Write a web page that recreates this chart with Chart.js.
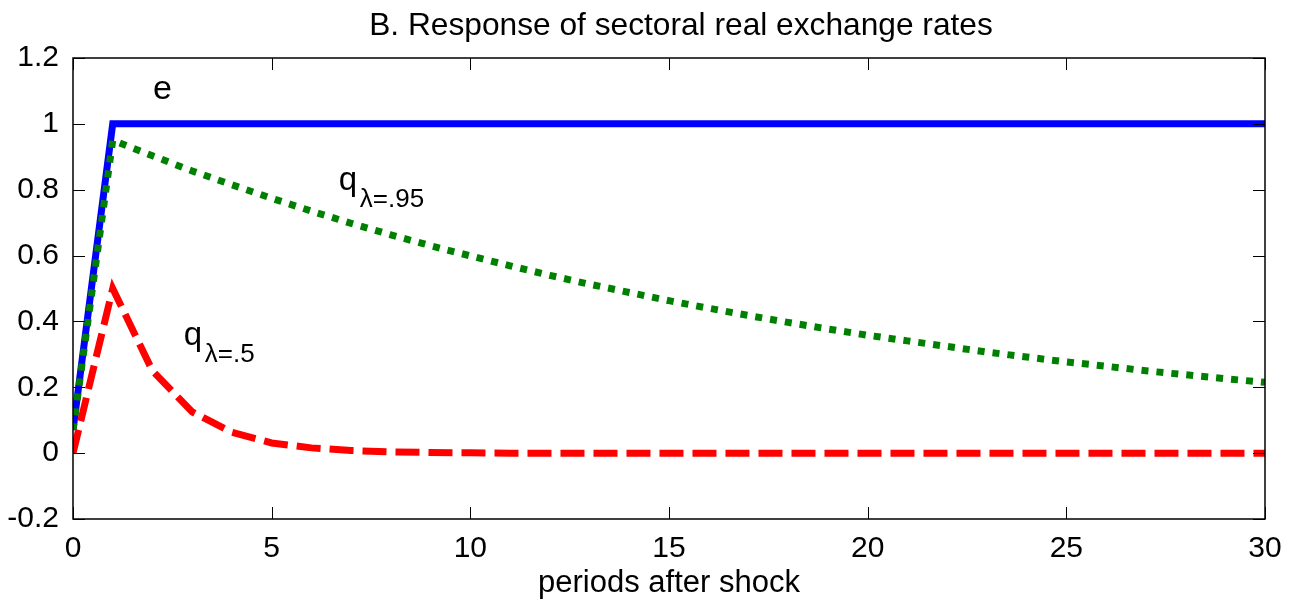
<!DOCTYPE html>
<html>
<head>
<meta charset="utf-8">
<title>Response of sectoral real exchange rates</title>
<script src="https://cdn.jsdelivr.net/npm/chart.js@4/dist/chart.umd.min.js"></script>
<style>
  html, body { margin: 0; padding: 0; background: #fff; }
  #wrap { width: 1289px; height: 608px; position: relative; }
</style>
</head>
<body>
<div id="wrap"><canvas id="rateChart"></canvas></div>
<script>
// periods after the shock
const periods = [0, 1, 2, 3, 4, 5, 6, 7, 8, 9, 10, 11, 12, 13, 14, 15,
  16, 17, 18, 19, 20, 21, 22, 23, 24, 25, 26, 27, 28, 29, 30];

// nominal exchange rate e
const eValues = [0.07, 1, 1, 1, 1, 1, 1, 1, 1, 1, 1, 1, 1, 1, 1, 1,
  1, 1, 1, 1, 1, 1, 1, 1, 1, 1, 1, 1, 1, 1, 1];

// sectoral real exchange rate, lambda = .95
const q95Values = [0.07, 0.950, 0.903, 0.857, 0.815, 0.774, 0.735, 0.698, 0.663, 0.630, 0.599,
  0.569, 0.540, 0.513, 0.488, 0.463, 0.440, 0.418, 0.397, 0.377, 0.358,
  0.341, 0.324, 0.307, 0.292, 0.277, 0.264, 0.250, 0.238, 0.226, 0.215];

// sectoral real exchange rate, lambda = .5
const q5Values = [0, 0.5, 0.25, 0.125, 0.063, 0.031, 0.016, 0.008, 0.004, 0.002, 0.001,
  0, 0, 0, 0, 0, 0, 0, 0, 0, 0, 0, 0, 0, 0, 0, 0, 0, 0, 0, 0];

const xTicks = [0, 5, 10, 15, 20, 25, 30];
const yTicks = [-0.2, 0, 0.2, 0.4, 0.6, 0.8, 1, 1.2];

const FONT = "'Liberation Sans', Arial, Helvetica, sans-serif";
const TITLE = 'B. Response of sectoral real exchange rates';

// MATLAB style frame: box, inward ticks on all sides, title and labels
const matlabFrame = {
  id: 'matlabFrame',
  afterDatasetsDraw(chart) {
    const { ctx, chartArea: a, scales: { x, y } } = chart;
    const tick = 12;
    ctx.save();
    ctx.strokeStyle = '#000';
    ctx.lineWidth = 1.5;
    ctx.strokeRect(a.left, a.top, a.right - a.left, a.bottom - a.top);
    ctx.lineWidth = 1;
    ctx.beginPath();
    xTicks.forEach(v => {
      const px = Math.round(x.getPixelForValue(v)) + 0.5;
      ctx.moveTo(px, a.bottom); ctx.lineTo(px, a.bottom - tick);
      ctx.moveTo(px, a.top); ctx.lineTo(px, a.top + tick);
    });
    yTicks.forEach(v => {
      const py = Math.round(y.getPixelForValue(v)) + 0.5;
      ctx.moveTo(a.left, py); ctx.lineTo(a.left + tick, py);
      ctx.moveTo(a.right, py); ctx.lineTo(a.right - tick, py);
    });
    ctx.stroke();

    ctx.fillStyle = '#000';
    ctx.textBaseline = 'middle';
    ctx.textAlign = 'center';
    ctx.font = `31.7px ${FONT}`;
    ctx.fillText(TITLE, (a.left + a.right) / 2 + 12, 26);

    // series labels
    ctx.font = `34px ${FONT}`;
    ctx.fillText('e', x.getPixelForValue(2.25), y.getPixelForValue(1.105));

    const label = (xv, yv, sub) => {
      const px = x.getPixelForValue(xv);
      const py = y.getPixelForValue(yv);
      ctx.textAlign = 'left';
      ctx.textBaseline = 'alphabetic';
      ctx.font = `33px ${FONT}`;
      ctx.fillText('q', px - 2, py);
      ctx.font = `26px ${FONT}`;
      ctx.fillText(sub, px + 19, py + 17);
    };
    label(6.74, 0.80, 'λ=.95');
    label(2.84, 0.328, 'λ=.5');
    ctx.restore();
  }
};

const ctx = document.getElementById('rateChart').getContext('2d');
new Chart(ctx, {
  type: 'line',
  data: {
    labels: periods,
    datasets: [
      {
        label: 'e',
        data: eValues,
        borderColor: '#0000ff',
        borderWidth: 7,
        order: 3
      },
      {
        label: 'q λ=.95',
        data: q95Values,
        borderColor: '#008000',
        borderWidth: 7,
        borderDash: [7, 8],
        borderCapStyle: 'butt',
        order: 2
      },
      {
        label: 'q λ=.5',
        data: q5Values,
        borderColor: '#ff0000',
        borderWidth: 7,
        borderDash: [24, 9],
        borderCapStyle: 'butt',
        order: 1
      }
    ]
  },
  options: {
    responsive: true,
    maintainAspectRatio: false,
    animation: false,
    layout: { padding: { left: 0, right: 24, top: 58, bottom: 0 } },
    elements: {
      point: { radius: 0 },
      line: { tension: 0, fill: false, borderJoinStyle: 'miter' }
    },
    plugins: {
      legend: { display: false },
      tooltip: { enabled: false }
    },
    scales: {
      x: {
        type: 'linear',
        min: 0,
        max: 30,
        afterBuildTicks: scale => { scale.ticks = xTicks.map(v => ({ value: v })); },
        afterFit: scale => { scale.height = 89; },
        grid: { display: false },
        border: { display: false },
        ticks: {
          color: '#000',
          padding: 4,
          maxRotation: 0,
          font: { family: FONT, size: 30 },
          callback: v => String(v)
        },
        title: {
          display: true,
          text: 'periods after shock',
          color: '#000',
          padding: { top: 0, bottom: 6 },
          font: { family: FONT, size: 31 }
        }
      },
      y: {
        type: 'linear',
        min: -0.2,
        max: 1.2,
        afterBuildTicks: scale => { scale.ticks = yTicks.map(v => ({ value: v })); },
        afterFit: scale => { scale.width = 73; },
        grid: { display: false },
        border: { display: false },
        ticks: {
          color: '#000',
          padding: 6,
          font: { family: FONT, size: 30 },
          callback: v => String(Number(v.toFixed(1)))
        }
      }
    }
  },
  plugins: [matlabFrame]
});
</script>
</body>
</html>
